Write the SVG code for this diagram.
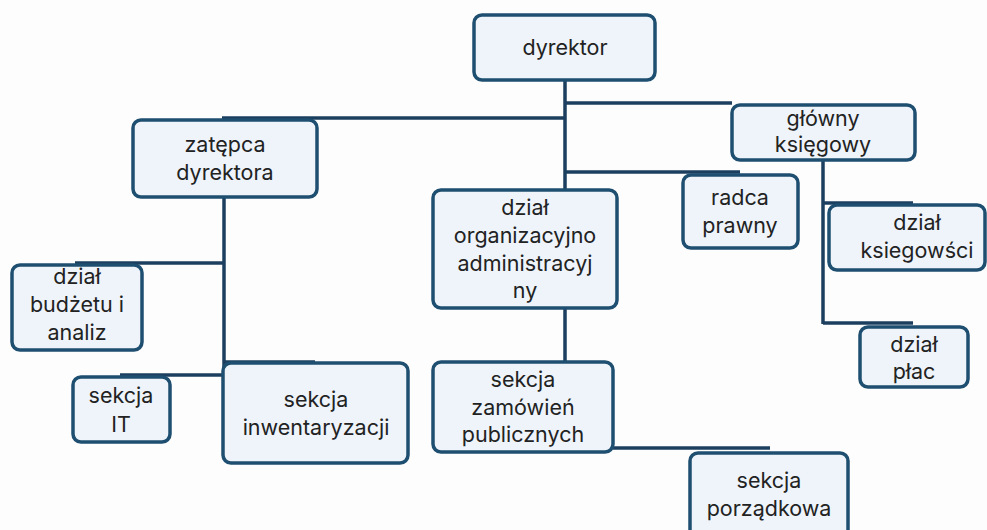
<svg xmlns="http://www.w3.org/2000/svg" width="987" height="530" viewBox="0 0 987 530">
<style>
.box{fill:#eef4fa;stroke:#1f4f70;stroke-width:3.5}
.ln{stroke:#1c3f5f;stroke-width:3.5;fill:none}
text{font-family:Inter,"Open Sans","Liberation Sans",sans-serif;font-size:21.5px;fill:#222;text-anchor:middle}
</style>
<rect width="987" height="530" fill="#fdfdfd"/>
<g id="connectors">
<path class="ln" d="M565 80V190M565 308V362"/>
<path class="ln" d="M565 103H732"/>
<path class="ln" d="M222 118H565"/>
<path class="ln" d="M565 172H740"/>
<path class="ln" d="M224 197V375"/>
<path class="ln" d="M75 263H224"/>
<path class="ln" d="M120 375H224"/>
<path class="ln" d="M224 362H315"/>
<path class="ln" d="M613 448H770"/>
<path class="ln" d="M823 160V324"/>
<path class="ln" d="M823 203H913"/>
<path class="ln" d="M823 323H913"/>
</g>
<g id="dyrektor"><rect class="box" x="474" y="15" width="181" height="65" rx="8"/><text x="565" y="55">dyrektor</text></g>
<g id="zastepca"><rect class="box" x="133" y="120" width="184" height="77" rx="8"/><text x="225" y="152">zatępca</text><text x="225" y="180">dyrektora</text></g>
<g id="glowny"><rect class="box" x="732" y="105" width="183" height="55" rx="8"/><text x="823" y="126">główny</text><text x="823" y="152">księgowy</text></g>
<g id="radca"><rect class="box" x="683" y="175" width="115" height="73" rx="8"/><text x="740" y="205">radca</text><text x="740" y="233">prawny</text></g>
<g id="organizacyjny"><rect class="box" x="433" y="190" width="184" height="118" rx="8"/><text x="525" y="215">dział</text><text x="525" y="243">organizacyjno</text><text x="525" y="271">administracyj</text><text x="525" y="298">ny</text></g>
<g id="ksiegowosci"><rect class="box" x="829" y="205" width="156" height="65" rx="8"/><text x="917" y="230">dział</text><text x="917" y="258">ksiegowści</text></g>
<g id="budzetu"><rect class="box" x="12" y="265" width="130" height="85" rx="8"/><text x="77" y="284">dział</text><text x="77" y="312">budżetu i</text><text x="77" y="340">analiz</text></g>
<g id="place"><rect class="box" x="860" y="327" width="108" height="60" rx="8"/><text x="914" y="352">dział</text><text x="914" y="379">płac</text></g>
<g id="it"><rect class="box" x="73" y="377" width="97" height="65" rx="8"/><text x="121" y="403">sekcja</text><text x="121" y="432">IT</text></g>
<g id="inwentaryzacji"><rect class="box" x="223" y="363" width="185" height="100" rx="8"/><text x="316" y="407">sekcja</text><text x="316" y="435">inwentaryzacji</text></g>
<g id="zamowien"><rect class="box" x="433" y="362" width="180" height="90" rx="8"/><text x="523" y="387">sekcja</text><text x="523" y="415">zamówień</text><text x="523" y="442">publicznych</text></g>
<g id="porzadkowa"><rect class="box" x="690" y="453" width="158" height="90" rx="8"/><text x="769" y="488">sekcja</text><text x="769" y="516">porządkowa</text></g>
</svg>
